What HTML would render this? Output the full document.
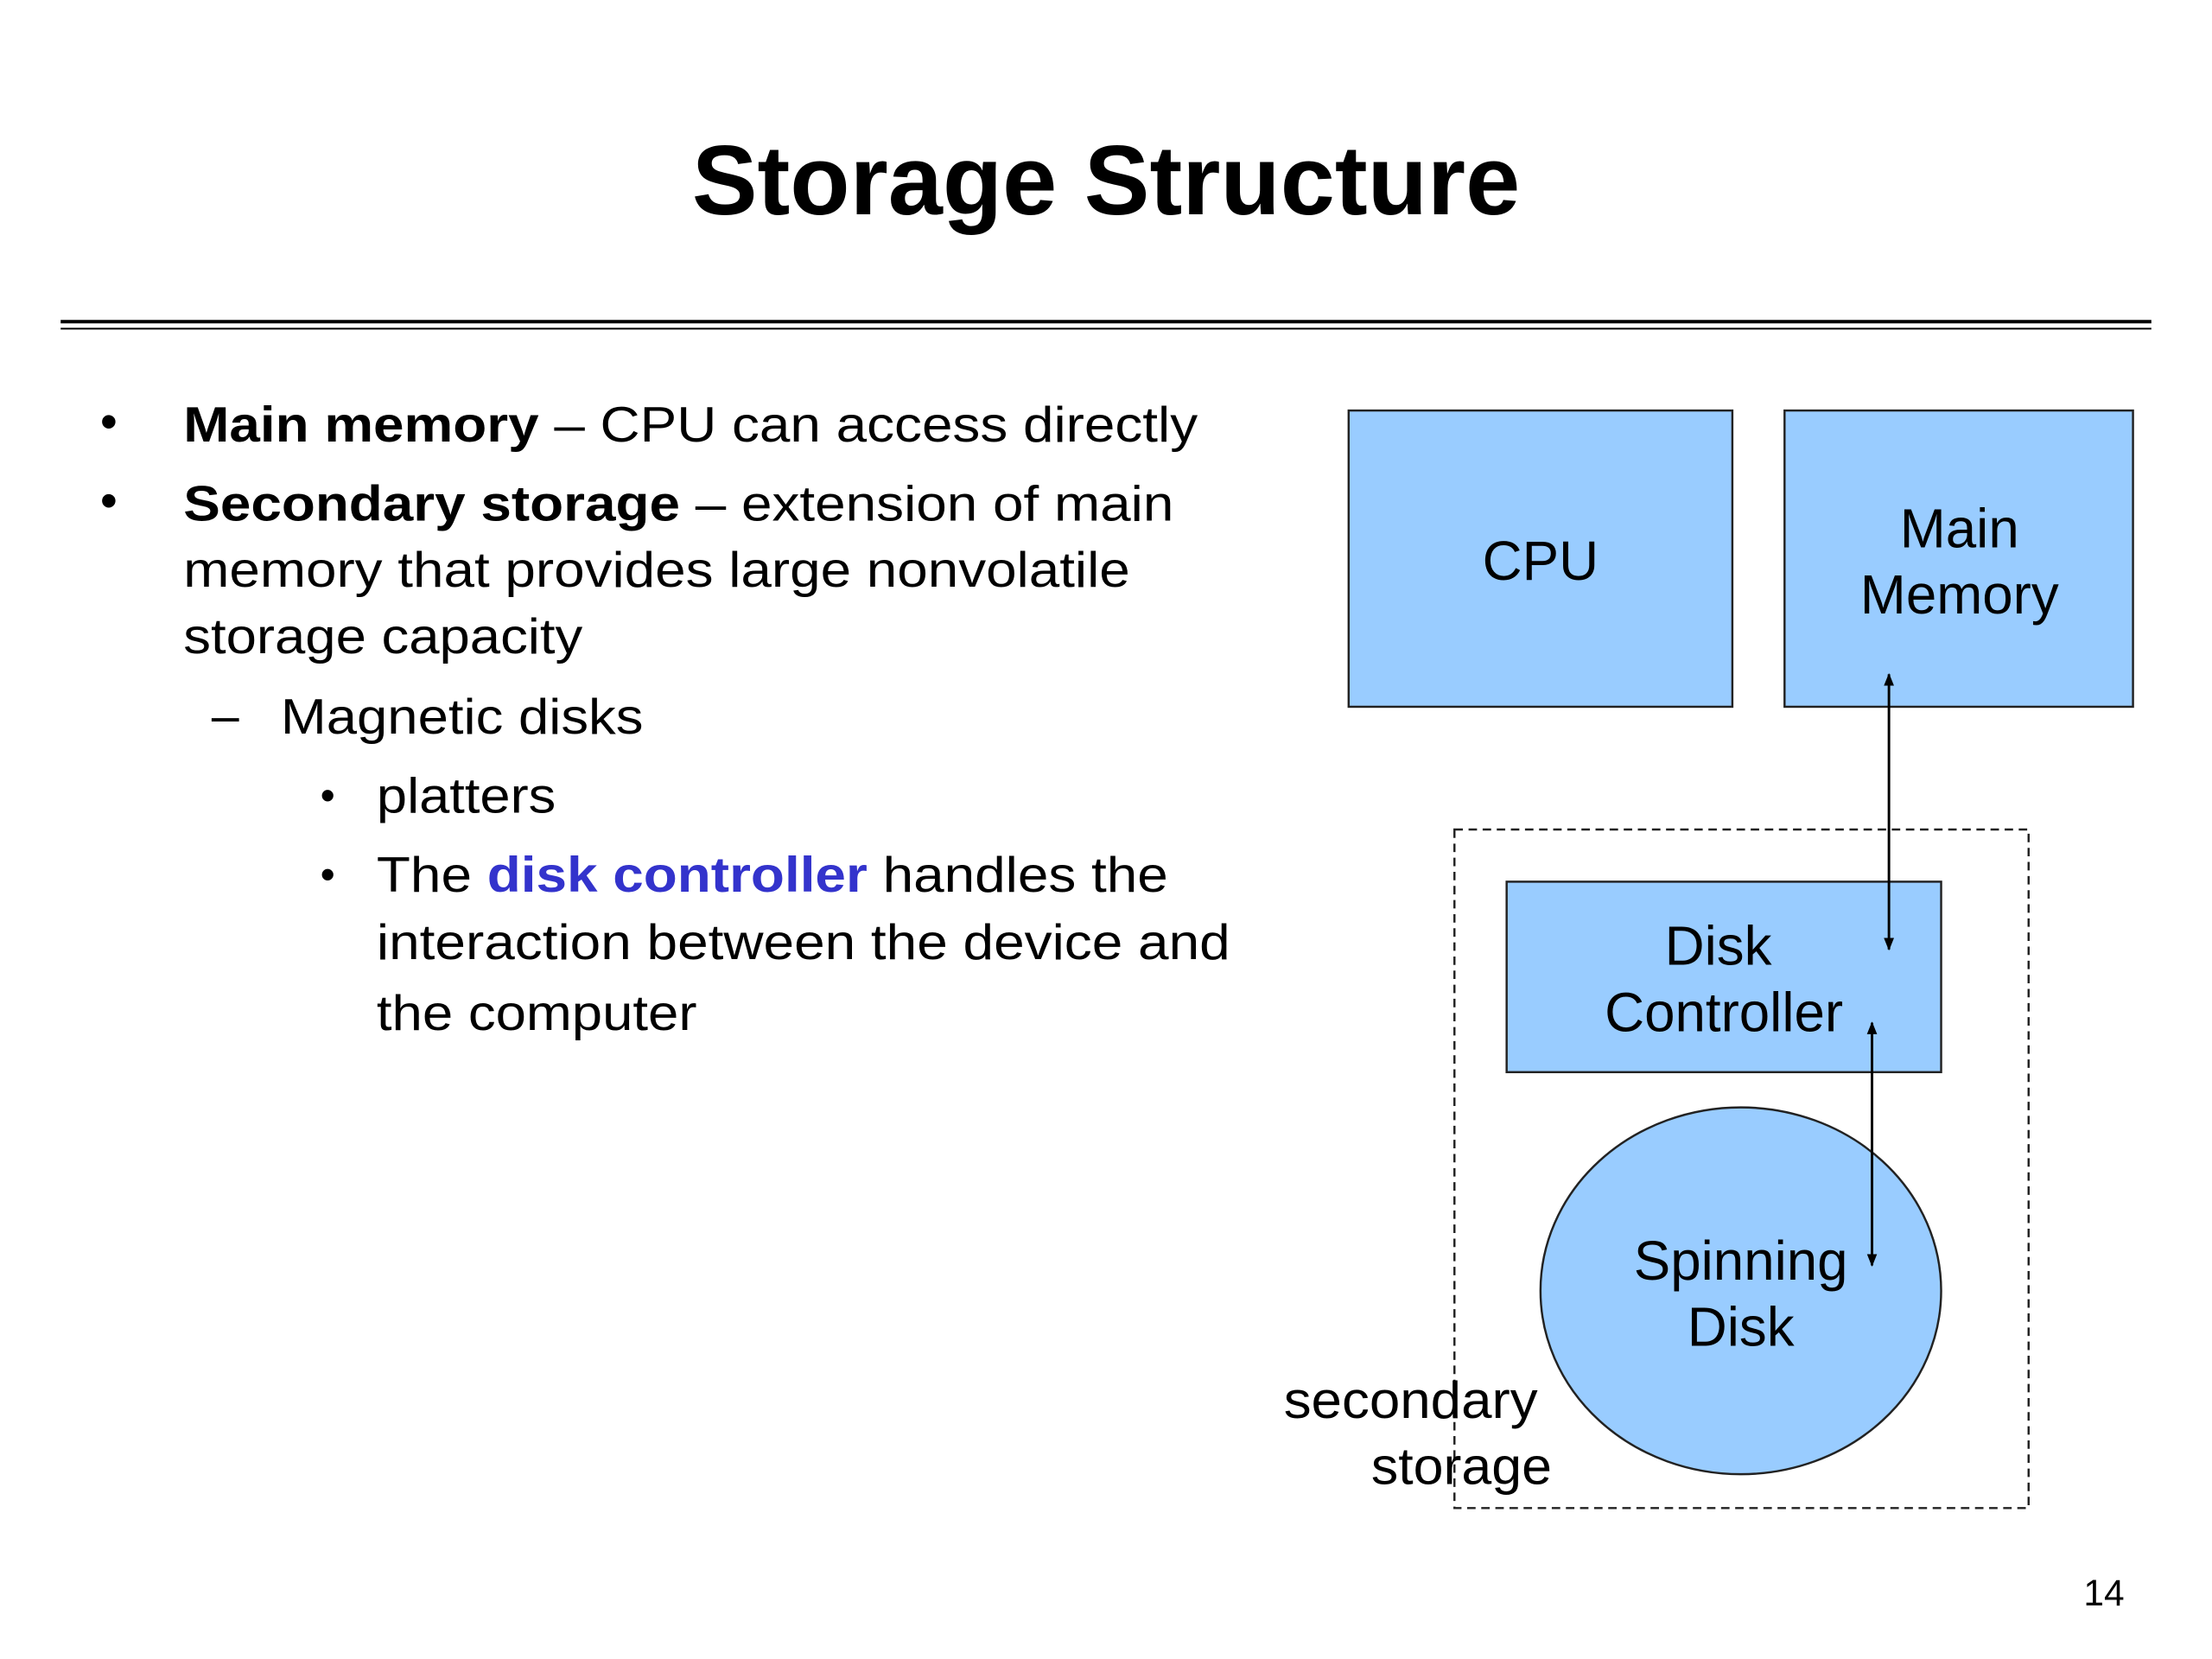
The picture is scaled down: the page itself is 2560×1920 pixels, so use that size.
<!DOCTYPE html>
<html><head><meta charset="utf-8"><style>html,body{margin:0;padding:0;background:#fff}svg{display:block}</style></head>
<body>
<svg width="2560" height="1920" viewBox="0 0 1568 1176" xmlns="http://www.w3.org/2000/svg" font-family="'Liberation Sans', Arial, sans-serif">
<defs>
<marker id="ah" viewBox="0 0 10 10" refX="9" refY="5" markerWidth="9" markerHeight="9" markerUnits="userSpaceOnUse" orient="auto-start-reverse"><path d="M0,1 L10,5 L0,9 z" fill="#000"/></marker>
</defs>
<rect width="1568" height="1176" fill="#fff"/>
<text x="784" y="152" text-anchor="middle" font-size="70" font-weight="bold" textLength="587" lengthAdjust="spacingAndGlyphs">Storage Structure</text>
<line x1="43" y1="228" x2="1525" y2="228" stroke="#000" stroke-width="2.5"/>
<line x1="43" y1="233" x2="1525" y2="233" stroke="#000" stroke-width="1.2"/>
<g font-size="35" fill="#000">
<text x="71" y="311">•</text>
<text x="130" y="313" textLength="719" lengthAdjust="spacingAndGlyphs"><tspan font-weight="bold">Main memory</tspan> – CPU can access directly</text>
<text x="71" y="367">•</text>
<text x="130" y="369" textLength="702" lengthAdjust="spacingAndGlyphs"><tspan font-weight="bold">Secondary storage</tspan> – extension of main</text>
<text x="130" y="416" textLength="671" lengthAdjust="spacingAndGlyphs">memory that provides large nonvolatile</text>
<text x="130" y="463" textLength="283" lengthAdjust="spacingAndGlyphs">storage capacity</text>
<text x="150" y="519">–</text>
<text x="199" y="520" textLength="257" lengthAdjust="spacingAndGlyphs">Magnetic disks</text>
<text x="227" y="574" font-size="30">•</text>
<text x="267" y="576" textLength="127" lengthAdjust="spacingAndGlyphs">platters</text>
<text x="227" y="630" font-size="30">•</text>
<text x="267" y="632" textLength="561" lengthAdjust="spacingAndGlyphs">The <tspan fill="#3333cc" font-weight="bold">disk controller</tspan> handles the</text>
<text x="267" y="680" textLength="605" lengthAdjust="spacingAndGlyphs">interaction between the device and</text>
<text x="267" y="730" textLength="227" lengthAdjust="spacingAndGlyphs">the computer</text>
</g>
<rect x="956" y="291" width="272" height="210" fill="#99ccff" stroke="#222" stroke-width="1.5"/>
<rect x="1265" y="291" width="247" height="210" fill="#99ccff" stroke="#222" stroke-width="1.5"/>
<rect x="1031" y="588" width="407" height="481" fill="none" stroke="#222" stroke-width="1.5" stroke-dasharray="6,4"/>
<rect x="1068" y="625" width="308" height="135" fill="#99ccff" stroke="#222" stroke-width="1.5"/>
<ellipse cx="1234" cy="915" rx="142" ry="130" fill="#99ccff" stroke="#222" stroke-width="1.5"/>
<line x1="1339" y1="478" x2="1339" y2="673" stroke="#000" stroke-width="1.8" marker-start="url(#ah)" marker-end="url(#ah)"/>
<line x1="1327" y1="725" x2="1327" y2="897" stroke="#000" stroke-width="1.8" marker-start="url(#ah)" marker-end="url(#ah)"/>
<g font-size="39" fill="#000" text-anchor="middle">
<text x="1092" y="411">CPU</text>
<text x="1389" y="388">Main</text>
<text x="1389" y="435">Memory</text>
<text x="1218" y="684">Disk</text>
<text x="1222" y="731">Controller</text>
<text x="1234" y="907">Spinning</text>
<text x="1234" y="954">Disk</text>
</g>
<g font-size="37" fill="#000">
<text x="910" y="1005" textLength="180" lengthAdjust="spacingAndGlyphs">secondary</text>
<text x="972" y="1052" textLength="128" lengthAdjust="spacingAndGlyphs">storage</text>
</g>
<text x="1477" y="1138" font-size="26">14</text>
</svg>
</body></html>
